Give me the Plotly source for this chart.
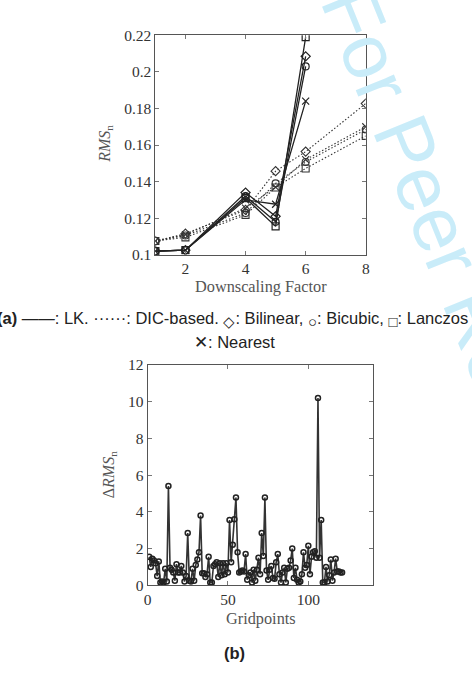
import plotly.graph_objects as go

# ---------------- data: panel (a) ----------------
factors_lk = [1, 2, 4, 5, 6]
factors_dic = [1, 2, 4, 5, 6, 8]

lk_bilinear = [0.102, 0.1025, 0.134, 0.121, 0.2085]
lk_bicubic = [0.102, 0.1025, 0.132, 0.118, 0.203]
lk_lanczos = [0.102, 0.1025, 0.131, 0.1155, 0.219]
lk_nearest = [0.102, 0.1025, 0.130, 0.1276, 0.184]

dic_bilinear = [0.1075, 0.1115, 0.1245, 0.1457, 0.1564, 0.1827]
dic_bicubic = [0.1075, 0.1105, 0.1228, 0.139, 0.1507, 0.1685]
dic_lanczos = [0.1075, 0.1095, 0.1218, 0.1368, 0.1472, 0.165]
dic_nearest = [0.1075, 0.111, 0.1255, 0.137, 0.152, 0.170]

# ---------------- data: panel (b) ----------------
delta_rms = [
    1.55, 1.0, 1.45, 1.35, 1.2, 0.5, 1.3, 0.15, 0.2, 0.15,
    0.9, 0.2, 5.4, 0.95, 0.85, 0.7, 0.25, 1.15, 0.7, 0.7,
    1.05, 0.7, 0.2, 0.5, 2.85, 0.25, 0.2, 0.9, 0.25, 1.1,
    1.4, 1.8, 3.8, 0.65, 0.65, 0.45, 0.6, 1.55, 0.15, 0.15,
    1.05, 1.15, 1.25, 0.45, 1.2, 0.55, 1.2, 0.6, 1.2, 0.7,
    3.55, 1.25, 2.2, 3.6, 4.78, 1.8, 0.7, 0.75, 0.8, 0.75,
    1.7, 0.3, 0.55, 0.7, 0.15, 0.85, 0.25, 0.85, 1.5, 0.6,
    2.85, 1.6, 4.78, 0.8, 0.3, 0.85, 1.05, 0.4, 0.35, 1.25,
    1.7, 0.6, 0.15, 0.7, 0.95, 0.15, 0.9, 0.95, 1.35, 2.0,
    0.4, 0.95, 0.3, 0.15, 0.2, 0.6, 1.8, 0.95, 1.1, 2.15,
    0.6, 1.55, 1.8, 1.85, 1.5, 10.2, 1.5, 3.55, 0.15, 0.15,
    1.0, 0.2, 0.55, 1.4, 0.25, 0.7, 1.45, 0.75, 0.75, 0.7,
    0.7,
]
gridpoints = list(range(1, len(delta_rms) + 1))

a_xticks = [2, 4, 6, 8]
a_yticks = [0.1, 0.12, 0.14, 0.16, 0.18, 0.2, 0.22]
b_xticks = [0, 50, 100]
b_yticks = [0, 2, 4, 6, 8, 10, 12]

W, H = 472, 682
SERIF = "Liberation Serif"
SANS = "Liberation Sans"
LINE = "#222222"

fig = go.Figure()

def px_x(p):
    return p / W

def px_y(p):
    return 1 - p / H

symbols = {"bilinear": "diamond-open", "bicubic": "circle-open",
           "lanczos": "square-open", "nearest": "x-thin-open"}

for name, vals in [("bilinear", dic_bilinear), ("bicubic", dic_bicubic),
                   ("lanczos", dic_lanczos), ("nearest", dic_nearest)]:
    fig.add_trace(go.Scatter(
        x=factors_dic, y=vals, mode="lines+markers", xaxis="x", yaxis="y",
        line=dict(color="#333333", width=1.1, dash="1.5px,2px"),
        marker=dict(symbol=symbols[name], size=7, color="#333333",
                    line=dict(width=1.1, color="#333333")),
        showlegend=False))

for name, vals in [("bilinear", lk_bilinear), ("bicubic", lk_bicubic),
                   ("lanczos", lk_lanczos), ("nearest", lk_nearest)]:
    fig.add_trace(go.Scatter(
        x=factors_lk, y=vals, mode="lines+markers", xaxis="x", yaxis="y",
        line=dict(color=LINE, width=1.3),
        marker=dict(symbol=symbols[name], size=7, color=LINE,
                    line=dict(width=1.2, color=LINE)),
        showlegend=False))

fig.add_trace(go.Scatter(
    x=gridpoints, y=delta_rms, mode="lines+markers", xaxis="x2", yaxis="y2",
    line=dict(color="#333333", width=1.6),
    marker=dict(symbol="circle-open", size=5, color="#222222",
                line=dict(width=1.5, color="#222222")),
    showlegend=False))

axis_common = dict(
    showline=True, linecolor="#555555", linewidth=1, mirror="ticks",
    ticks="inside", ticklen=4, tickcolor="#777777", showgrid=False,
    zeroline=False, tickfont=dict(family=SERIF, size=15.5, color="#333333"),
)

fig.update_layout(
    width=W, height=H, margin=dict(l=0, r=0, t=0, b=0),
    paper_bgcolor="white", plot_bgcolor="white",
    xaxis=dict(domain=[px_x(154), px_x(368)], range=[1, 8], anchor="y",
               tickvals=a_xticks, **axis_common),
    yaxis=dict(domain=[px_y(252), px_y(27)], range=[0.1, 0.22], anchor="x",
               tickvals=a_yticks, ticktext=[f"{v:g}" for v in a_yticks],
               **axis_common),
    xaxis2=dict(domain=[px_x(146), px_x(375)], range=[0, 140], anchor="y2",
                tickvals=b_xticks, **axis_common),
    yaxis2=dict(domain=[px_y(591), px_y(365)], range=[0, 12], anchor="x2",
                tickvals=b_yticks, **axis_common),
)

def note(text, x, y, size, family, color="#222222", angle=0, xanchor="center"):
    return dict(text=text, x=px_x(x), y=px_y(y), xref="paper", yref="paper",
                xanchor=xanchor, yanchor="middle", showarrow=False,
                textangle=angle, font=dict(family=family, size=size, color=color))

def sym(ch):
    return f'<sub><span style="font-size:15px">{ch}</span></sub>'

ann = []
# watermark
ann.append(note("For Peer Review", 458, 258, 78, SANS, color="#c9ecf9", angle=68))
# axis titles
ann.append(note("Downscaling Factor", 261, 285, 16.3, SERIF, "#555555"))
ann.append(note("<i>RMS</i><sub>n</sub>", 103, 138, 16, SERIF, "#555555", angle=-90))
ann.append(note("Gridpoints", 261, 625, 16.3, SERIF, "#555555"))
ann.append(note("Δ<i>RMS</i><sub>n</sub>", 107, 478, 16, SERIF, "#555555", angle=-90))
# captions
ann.append(note("<b>(a)</b> ——: LK. ······: DIC-based. " + sym("◇") + ": Bilinear, "
                + sym("○") + ": Bicubic, " + sym("□") + ": Lanczos",
                474, 318, 16.5, SANS, xanchor="right"))
ann.append(note("✕: Nearest", 234, 341, 16.5, SANS))
ann.append(note("<b>(b)</b>", 234, 660, 16.5, SANS))
fig.update_layout(annotations=ann)

fig.write_html("out.html")
